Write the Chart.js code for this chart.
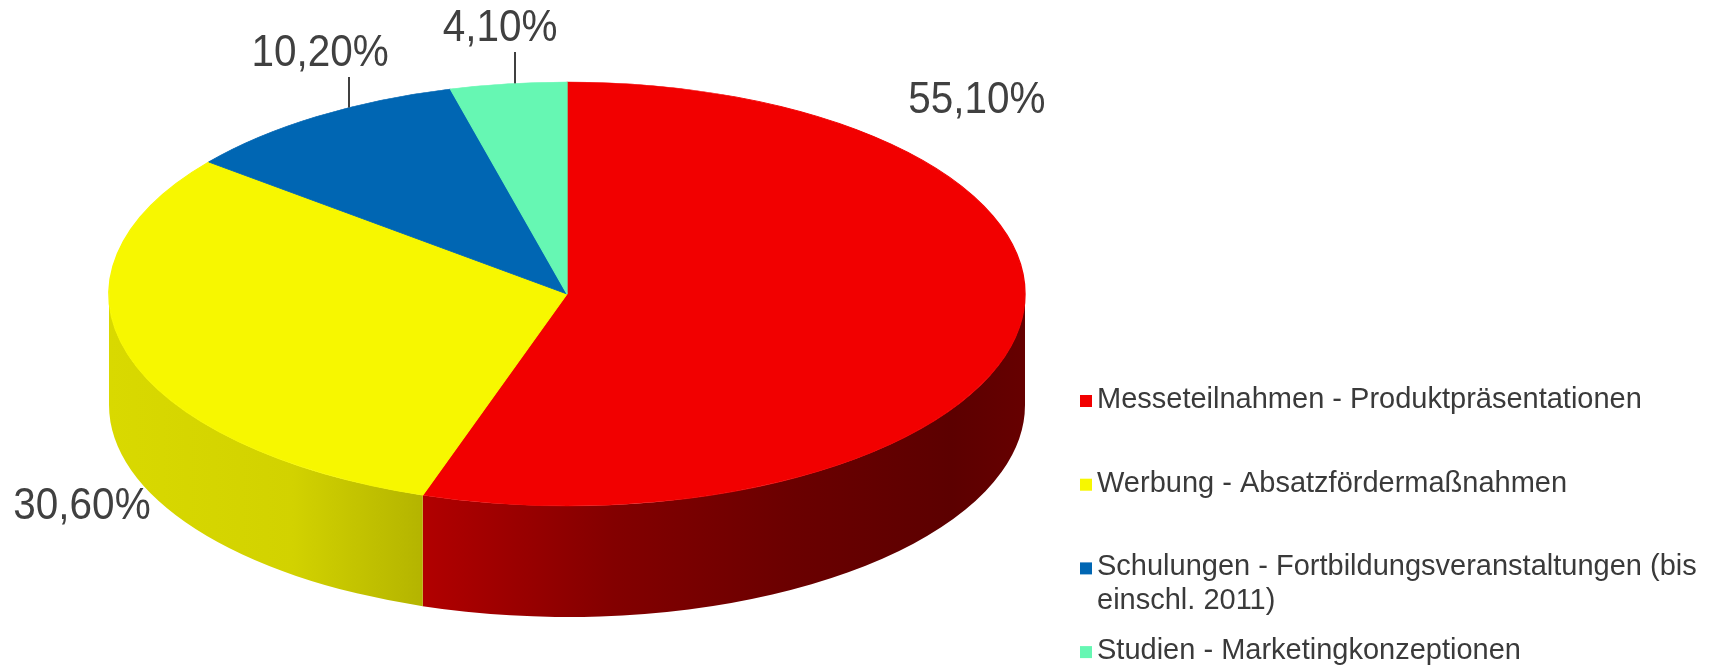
<!DOCTYPE html>
<html>
<head>
<meta charset="utf-8">
<script src="https://cdn.jsdelivr.net/npm/chart.js@4/dist/chart.umd.min.js"></script>
<style>
  html, body { margin: 0; padding: 0; background: #fff; }
  canvas { display: block; }
</style>
</head>
<body>
<canvas id="kuchen" width="1719" height="668"></canvas>
<script>
const kategorien = [
    "Messeteilnahmen - Produktpräsentationen",
    "Werbung - Absatzfördermaßnahmen",
    "Schulungen - Fortbildungsveranstaltungen (bis einschl. 2011)",
    "Studien - Marketingkonzeptionen"
];
const anteile = [55.1, 30.6, 10.2, 4.1];
const farben = ["#f20000", "#f7f700", "#0066b3", "#66f7b3"];

// Lage der gekippten Torte im Bild
const torte = { cx: 567, cy: 294, rx: 458, ry: 212, tiefe: 111 };
// Beschriftungen relativ zur Ellipse (in rx / ry), lx = Fuss der Hinweislinie
const labelPos = [
    { x: 0.895, y: -0.91 },
    { x: -1.059, y: 1.005 },
    { x: -0.539, y: -1.132, lx: -0.476 },
    { x: -0.146, y: -1.25, lx: -0.1135 }
];
// Helligkeit der Seitenwand von links nach rechts
const seitenLicht = [[0, 0.88], [0.2, 0.85], [0.32, 0.75], [0.55, 0.54], [0.75, 0.44], [0.92, 0.38], [1, 0.42]];

function abdunkeln(hex, f) {
    let r = parseInt(hex.substr(1, 2), 16), g = parseInt(hex.substr(3, 2), 16), b = parseInt(hex.substr(5, 2), 16);
    return "rgb(" + Math.round(r * f) + "," + Math.round(g * f) + "," + Math.round(b * f) + ")";
}

function prozent(v) {
    return v.toFixed(2).replace(".", ",") + "%";
}

const dreiD = {
    id: "dreiD",
    beforeDatasetsDraw(chart) {
        let ctx = chart.ctx;
        let meta = chart.getDatasetMeta(0);
        let t = torte;
        // Seitenwand (nur vorne sichtbar: Winkel 0..PI)
        meta.data.forEach((arc, i) => {
            let s = Math.max(arc.startAngle, 0);
            let e = Math.min(arc.endAngle, Math.PI);
            if (e <= s) return;
            let grad = ctx.createLinearGradient(t.cx - t.rx, 0, t.cx + t.rx, 0);
            seitenLicht.forEach(st => grad.addColorStop(st[0], abdunkeln(farben[i], st[1])));
            ctx.beginPath();
            ctx.ellipse(t.cx, t.cy, t.rx, t.ry, 0, s, e);
            ctx.ellipse(t.cx, t.cy + t.tiefe, t.rx, t.ry, 0, e, s, true);
            ctx.closePath();
            ctx.fillStyle = grad;
            ctx.fill();
        });
        // Deckel: Kreis auf Ellipse stauchen
        let a = meta.data[0];
        ctx.save();
        ctx.translate(t.cx, t.cy);
        ctx.scale(t.rx / a.outerRadius, t.ry / a.outerRadius);
        ctx.translate(-a.x, -a.y);
    },
    afterDatasetsDraw(chart) {
        let ctx = chart.ctx;
        ctx.restore();
        let t = torte;
        let werte = chart.data.datasets[0].data;
        ctx.save();
        ctx.fillStyle = "#404040";
        ctx.strokeStyle = "#404040";
        ctx.lineWidth = 2;
        ctx.font = "44px 'Liberation Sans', Arial, sans-serif";
        ctx.textAlign = "center";
        ctx.textBaseline = "middle";
        werte.forEach((v, i) => {
            let p = labelPos[i];
            let x = t.cx + p.x * t.rx, y = t.cy + p.y * t.ry;
            ctx.save();
            ctx.translate(x, y);
            ctx.scale(0.92, 1);
            ctx.fillText(prozent(v), 0, 0);
            ctx.restore();
            if (p.lx !== undefined) {
                let lx = t.cx + p.lx * t.rx;
                let ly = t.cy - t.ry * Math.sqrt(1 - p.lx * p.lx);
                ctx.beginPath();
                ctx.moveTo(lx, y + 23);
                ctx.lineTo(lx, ly);
                ctx.stroke();
            }
        });
        ctx.restore();
    },
    afterDraw(chart) {
        let ctx = chart.ctx;
        ctx.save();
        ctx.font = "29px 'Liberation Sans', Arial, sans-serif";
        ctx.textBaseline = "middle";
        ctx.textAlign = "left";
        let x0 = 1080, tx = 1097, maxB = 615;
        chart.data.labels.forEach((txt, i) => {
            let y = 400 + i * 83.7;
            ctx.fillStyle = farben[i];
            ctx.fillRect(x0, y - 5, 12, 12);
            // Zeilenumbruch
            let zeilen = [], z = "";
            txt.split(" ").forEach(w => {
                let probe = z ? z + " " + w : w;
                if (ctx.measureText(probe).width > maxB && z) { zeilen.push(z); z = w; }
                else z = probe;
            });
            zeilen.push(z);
            ctx.fillStyle = "#3a3a3a";
            zeilen.forEach((zl, k) => ctx.fillText(zl, tx, y + k * 34));
        });
        ctx.restore();
    }
};

new Chart(document.getElementById("kuchen"), {
    type: "pie",
    data: {
        labels: kategorien,
        datasets: [{
            data: anteile,
            backgroundColor: farben,
            borderColor: farben,
            borderWidth: 1,
            clip: false
        }]
    },
    options: {
        responsive: false,
        animation: false,
        events: [],
        plugins: {
            legend: { display: false },
            tooltip: { enabled: false }
        }
    },
    plugins: [dreiD]
});
</script>
</body>
</html>
